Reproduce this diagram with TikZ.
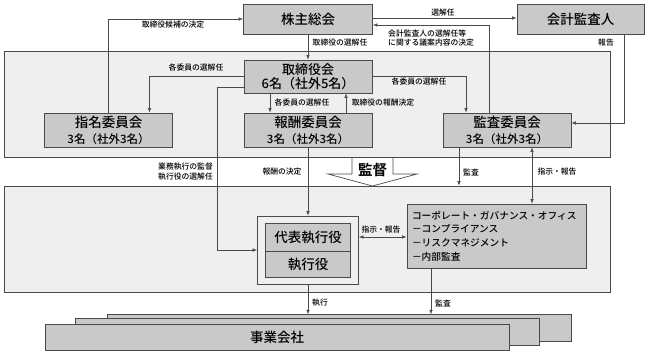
\documentclass[tikz,border=0pt]{standalone}
\usepackage{fontspec}
\setmainfont{Noto Sans CJK JP Medium}[BoldFont={Noto Sans CJK JP Bold}]
\usetikzlibrary{arrows.meta}
\definecolor{boxgray}{HTML}{C9C9C9}
\definecolor{panelgray}{HTML}{EFEFEF}
\definecolor{edgegray}{HTML}{4A4A4A}
\tikzset{
  body/.style={
    draw = edgegray,
    fill = boxgray,
    line width = 0.8pt,
    inner sep = 0pt,
    align = center,
    font = \fontsize{13.5}{16}\selectfont
  },
  panel/.style={
    draw = edgegray,
    fill = panelgray,
    line width = 0.7pt,
    inner sep = 0pt
  },
  link/.style={
    draw = edgegray,
    line width = 0.6pt,
    >={Latex[length=4.5pt,width=3.6pt]},
    ->
  },
  twolink/.style={
    link,
    <->
  },
  note/.style={
    inner sep = 0pt,
    font = \fontsize{7.8}{9.5}\selectfont
  }
}

\begin{document}
\begin{tikzpicture}[x=1pt,y=-1pt]
  \useasboundingbox (0,0) rectangle (648,357);
  % panels
  \node[panel, minimum width=606, minimum height=106] (upper) at (307,104) {};
  \node[panel, minimum width=606, minimum height=106] (lower) at (307,239) {};
  % top row
  \node[body, minimum width=129, minimum height=30] (share) at (308,19) {株主総会};
  \node[body, minimum width=127, minimum height=30] (auditor) at (580.5,19) {会計監査人};
  % board and committees
  \node[body, minimum width=128, minimum height=33, font=\fontsize{13}{13.5}\selectfont] (board) at (308,76.5) {取締役会\\6名（社外5名）};
  \foreach \n/\x/\t in {nom/108.5/指名委員会, pay/308/報酬委員会, aud/507/監査委員会}{
    \node[body, minimum width=128, minimum height=34] (\n) at (\x,130) {\t\\{\fontsize{11.5}{16}\selectfont 3名（社外3名）}};
  }
  % supervision arrow
  \draw[edgegray, line width=0.7pt] (352,157) -- (352,174) -- (328,174) -- (372.5,186) -- (417,174) -- (393,174) -- (393,157);
  \node[inner sep=0pt, font=\bfseries\fontsize{14.5}{15}\selectfont] (watch) at (372.5,170) {監督};
  % executive side
  \node[panel, minimum width=101, minimum height=68] (exec) at (308,250) {};
  \node[body, minimum width=85, minimum height=28] (ceo) at (308,237) {代表執行役};
  \node[body, minimum width=85, minimum height=26] (officer) at (308,264) {執行役};
  \node[body, minimum width=179, minimum height=64, align=left, text width=169, font=\fontsize{9.7}{13.7}\selectfont] (office) at (496.5,236) {コーポレート・ガバナンス・オフィス\\－コンプライアンス\\－リスクマネジメント\\－内部監査};
  % operating companies
  \foreach \i/\x/\y in {3/339/328, 2/307.5/332}{
    \node[body, minimum width=464, minimum height=26.5] (firm\i) at (\x,\y) {};
  }
  \node[body, minimum width=464, minimum height=26.5] (firm1) at (277,337.5) {事業会社};
  % connectors
  \draw[link] (nom.north) |- (share.west);
  \draw[link] (share.south) -- (board.north);
  \draw[link] (board.west) -| ([xshift=41pt]nom.north);
  \draw[link] ([xshift=-38pt]board.south) -- ([xshift=-38pt]pay.north);
  \draw[link] ([xshift=38pt]pay.north) -- ([xshift=38pt]board.south);
  \draw[link] (board.east) -| ([xshift=-41pt]aud.north);
  \draw[link] ([xshift=-18pt]aud.north) |- ([yshift=-6pt]share.east);
  \draw[link] ([yshift=1pt]share.east) -- ([yshift=1pt]auditor.west);
  \draw[link] ([xshift=43.5pt]auditor.south) |- ([yshift=7pt]aud.east);
  \draw[link] ([yshift=-11pt]board.west) -- ++(-26,0) |- (exec.west);
  \draw[link] (pay.south) -- (exec.north);
  \draw[link] ([xshift=-48pt]aud.south) coordinate (a1) -- (a1 |- lower.north);
  \draw[twolink] ([xshift=25pt]aud.south) coordinate (a2) -- (a2 |- office.north);
  \draw[twolink] (ceo.east -| exec.east) -- (ceo.east -| office.west);
  \draw[link] (exec.south) -- (exec.south |- firm3.north);
  \draw[link] ([xshift=-65.5pt]office.south) coordinate (o1) -- (o1 |- firm3.north);
  % labels
  \node[note] (l1) at (173,25) {取締役候補の決定};
  \node[note] (l2) at (340,43) {取締役の選解任};
  \node[note] (l3) at (196,68) {各委員の選解任};
  \node[note] (l4) at (302,103) {各委員の選解任};
  \node[note] (l5) at (383,103) {取締役の報酬決定};
  \node[note] (l6) at (419,82) {各委員の選解任};
  \node[note, anchor=west, align=left] (l7) at (388,38) {会計監査人の選解任等\\に関する議案内容の決定};
  \node[note] (l8) at (443,13) {選解任};
  \node[note] (l9) at (606,43) {報告};
  \node[note, anchor=east, align=right] (l10) at (213,171.5) {業務執行の監督\\執行役の選解任};
  \node[note] (l11) at (282,172) {報酬の決定};
  \node[note] (l12) at (471,172) {監査};
  \node[note] (l13) at (557,172) {指示・報告};
  \node[note] (l14) at (381,230) {指示・報告};
  \node[note] (l15) at (320,303) {執行};
  \node[note] (l16) at (443,303) {監査};
\end{tikzpicture}
\end{document}
